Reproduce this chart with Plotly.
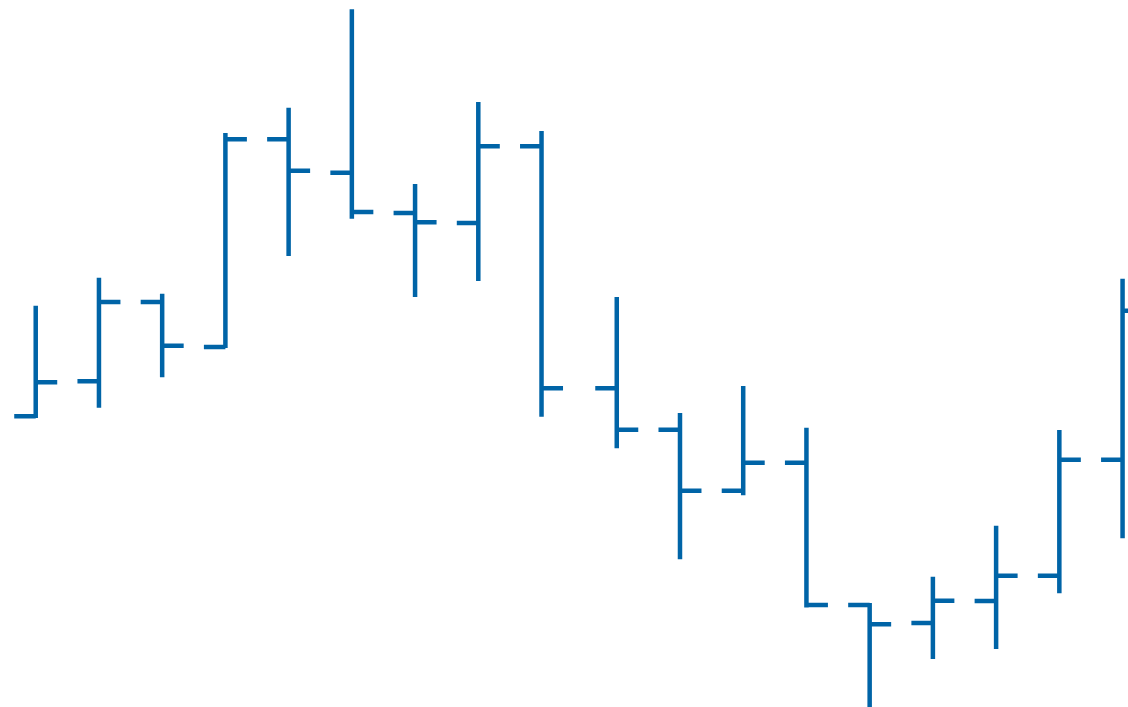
import plotly.graph_objects as go

x_pos = [0, 1, 2, 3, 4, 5, 6, 7, 8, 9.19, 10.19, 11.19, 12.19, 13.19, 14.19, 15.19, 16.19, 17.19]
open_ = [129.07, 132.57, 140.50, 136.00, 156.77, 153.43, 149.40, 148.40, 156.07,
         131.87, 127.73, 121.63, 124.43, 110.20, 108.40, 110.60, 113.13, 124.73]
high = [140.13, 142.93, 141.33, 157.40, 159.93, 169.77, 152.30, 160.50, 157.60,
        141.00, 129.40, 132.10, 127.93, 110.40, 113.03, 118.13, 127.70, 142.83]
low = [128.90, 129.93, 132.97, 135.90, 145.10, 148.83, 141.00, 142.60, 129.03,
       125.87, 114.77, 121.17, 109.95, 99.70, 104.80, 105.80, 111.37, 116.87]
close = [132.47, 140.50, 136.13, 156.77, 153.63, 149.50, 148.47, 156.07, 131.87,
         127.73, 121.63, 124.43, 110.20, 108.27, 110.63, 113.13, 124.73, 139.63]

color = "#0064a7"

fig = go.Figure(go.Ohlc(
    x=x_pos, open=open_, high=high, low=low, close=close,
    increasing=dict(line=dict(color=color, width=4.5)),
    decreasing=dict(line=dict(color=color, width=4.5)),
    tickwidth=0.34,
    showlegend=False,
))

fig.update_layout(
    width=1128, height=707,
    margin=dict(l=0, r=0, t=0, b=0),
    paper_bgcolor="white", plot_bgcolor="white",
    xaxis=dict(visible=False, range=[-0.565, 17.276], rangeslider=dict(visible=False)),
    yaxis=dict(visible=False, range=[100, 170.7]),
)

fig.write_html(
    "out.html",
    config={"displayModeBar": False},
    post_script="document.body.style.margin='0';document.body.style.overflow='hidden';",
)
